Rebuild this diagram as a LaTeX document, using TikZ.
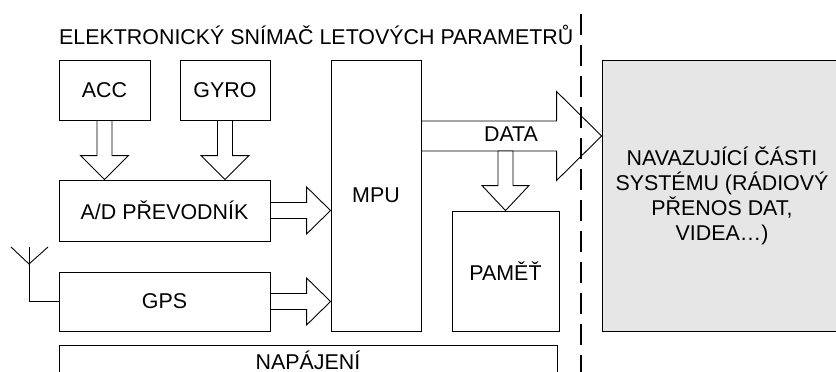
\documentclass[tikz,border=0pt]{standalone}
\usepackage{fontspec}
\setmainfont{Liberation Sans}
\usetikzlibrary{calc}
\definecolor{panelgray}{HTML}{E6E6E6}
\tikzset{
  unit/.style={draw, line width=0.9pt, inner sep=0pt},
  panel/.style={unit, fill=panelgray, align=center},
  fatarrow/.style={draw, line width=0.9pt, fill=white, line join=miter},
  wire/.style={line width=0.9pt},
  borderline/.style={line width=2.4pt, dash pattern=on 21pt off 10pt}
}
\newcommand{\blockArrow}[5]{%
  % #1 tail, #2 tip, #3 half shaft, #4 half head, #5 head length
  \coordinate (hb) at ($(#2)!#5!(#1)$);
  \draw[fatarrow] ($(#1)!#3!90:(#2)$) -- ($(hb)!#3!90:(#2)$) -- ($(hb)!#4!90:(#2)$)
    -- (#2) -- ($(hb)!#4!-90:(#2)$) -- ($(hb)!#3!-90:(#2)$) -- ($(#1)!#3!-90:(#2)$) -- cycle;
}

\begin{document}
\begin{tikzpicture}[x=1pt, y=-1pt, every node/.style={font=\fontsize{21.4}{25}\selectfont}]
  \useasboundingbox (0,0) rectangle (836,372);
  % title
  \node[anchor=base west, inner sep=0pt] (title) at (59,44) {ELEKTRONICKÝ SNÍMAČ LETOVÝCH PARAMETRŮ};
  % sensors
  \node[unit, minimum width=91, minimum height=60] (acc) at (104.5,90) {ACC};
  \node[unit, minimum width=90, minimum height=60] (gyro) at (225,90) {GYRO};
  \node[unit, minimum width=211, minimum height=61] (ad) at (164.5,210.5) {A/D PŘEVODNÍK};
  \node[unit, minimum width=211, minimum height=59] (gps) at (164.5,301.5) {GPS};
  % processor and memory
  \node[unit, minimum width=90, minimum height=271] (mpu) at (376,195.5) {MPU};
  \node[unit, minimum width=107, minimum height=120] (pamet) at (505.5,271) {PAMĚŤ};
  \node[unit, minimum width=498, minimum height=29] (napajeni) at (308,360) {NAPÁJENÍ};
  % outside part
  \node[panel, minimum width=240, minimum height=271] (navaz) at (722,195.5)
    {NAVAZUJÍCÍ ČÁSTI\\SYSTÉMU (RÁDIOVÝ\\PŘENOS DAT,\\VIDEA…)};
  % antenna
  \coordinate (ant) at (29,264);
  \draw[wire] (gps.west) -| (29,247);
  \draw[wire] (11,247) -- (ant) -- (48,247);
  % arrows
  \coordinate (accTip) at (acc.south |- ad.north);
  \coordinate (gyroTip) at (gyro.south |- ad.north);
  \coordinate (adTip) at (ad.east -| mpu.west);
  \coordinate (gpsTip) at (gps.east -| mpu.west);
  \coordinate (dataTip) at (navaz.west |- 0,136);
  \coordinate (dataTail) at (mpu.east |- dataTip);
  \coordinate (memTail) at (pamet.north |- 0,151);
  \blockArrow{acc.south}{accTip}{7.5pt}{24pt}{24pt}
  \blockArrow{gyro.south}{gyroTip}{7.5pt}{24pt}{24pt}
  \blockArrow{ad.east}{adTip}{8pt}{23.5pt}{24pt}
  \blockArrow{gps.east}{gpsTip}{8pt}{23.5pt}{24pt}
  \blockArrow{dataTail}{dataTip}{15pt}{44.5pt}{45pt}
  \blockArrow{memTail}{pamet.north}{7.5pt}{23.5pt}{25pt}
  \node (data) at (511,134.5) {DATA};
  % border of the device
  \draw[borderline] (581,14) -- (581,380);
\end{tikzpicture}
\end{document}
